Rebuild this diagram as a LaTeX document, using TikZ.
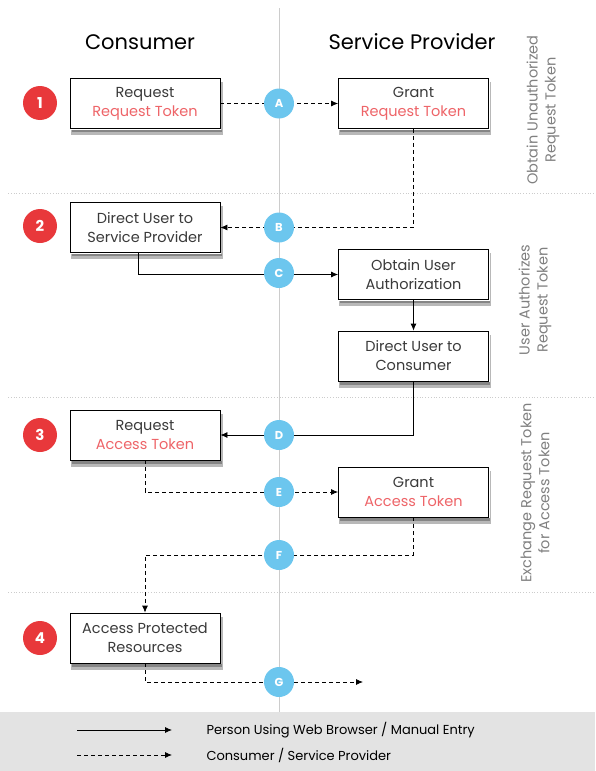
\documentclass[tikz,border=0pt]{standalone}
\usepackage{fontspec}
\setmainfont{Poppins}
\usetikzlibrary{arrows.meta,calc}
\definecolor{tokred}{HTML}{EE6468}
\definecolor{stepred}{HTML}{E8383B}
\definecolor{legblue}{HTML}{6CC6EE}
\definecolor{txtgray}{HTML}{3A3A3A}
\begin{document}
\begin{tikzpicture}[x=1pt, y=-1pt,
  every node/.style = {font=\fontsize{14.5}{19}\selectfont, text=txtgray},
  box/.style        = {draw=black, thick, fill=white, align=center,
                        minimum width=150pt, minimum height=50pt, inner sep=2pt},
  shade/.style      = {fill=black, fill opacity=0.28},
  stepnum/.style    = {circle, fill=stepred, minimum size=34pt, inner sep=0pt,
                        text=white, font=\fontsize{15}{15}\selectfont\bfseries},
  leg/.style        = {circle, fill=legblue, minimum size=30pt, inner sep=0pt,
                        text=white, font=\fontsize{11.5}{11.5}\selectfont\bfseries},
  arr/.style        = {-{Latex[length=7pt,width=6pt]}, thick},
  darr/.style       = {arr, dash pattern=on 4pt off 3pt},
  sep/.style        = {gray!40, dotted, thick},
  side/.style       = {rotate=90, align=center, text=gray, font=\fontsize{14.5}{18}\selectfont},
  head/.style       = {font=\fontsize{21}{25}\selectfont, text=black},
]
\useasboundingbox (0,0) rectangle (595,771);

% ── Frame ──────────────────────────────────────────────────────────────────
\fill[gray!22] (0,712) rectangle (595,771);
\draw[gray!40, thick] (279,8) -- (279,712);
\foreach \yy in {193,397,592}
  \draw[sep] (8,\yy) -- (595,\yy);

% ── Headings ───────────────────────────────────────────────────────────────
\node[head] (hcons) at (140,42) {Consumer};
\node[head] (hprov) at (412,42) {Service Provider};

\node[side] (ph1) at (543,110) {Obtain Unauthorized\\Request Token};
\node[side] (ph2) at (535,300) {User Authorizes\\Request Token};
\node[side] (ph3) at (535,493) {Exchange Request Token\\for Access Token};

% ── Boxes ──────────────────────────────────────────────────────────────────
\node[box] (reqRT)  at (145,103.5) {Request\\\textcolor{tokred}{Request Token}};
\node[box] (grRT)   at (413.5,103.5) {Grant\\\textcolor{tokred}{Request Token}};
\node[box] (dirSP)  at (145,227.5) {Direct User to\\Service Provider};
\node[box] (obtUA)  at (413.5,274.5) {Obtain User\\Authorization};
\node[box] (dirCon) at (413.5,356) {Direct User to\\Consumer};
\node[box] (reqAT)  at (145,435) {Request\\\textcolor{tokred}{Access Token}};
\node[box] (grAT)   at (413.5,492) {Grant\\\textcolor{tokred}{Access Token}};
\node[box] (access) at (145,638) {Access Protected\\Resources};

% box shadows (below each box)
\foreach \b in {reqRT,grRT,dirSP,obtUA,dirCon,reqAT,grAT,access} {
  \fill[shade] ($(\b.south west)+(1,1)$) rectangle ($(\b.south east)+(2.5,6.5)$);
  \fill[shade] ($(\b.south west)+(2,1)$) rectangle ($(\b.south east)+(1.5,3.5)$);
  \fill[shade] ($(\b.north east)+(1,4)$) rectangle ($(\b.south east)+(2.5,1)$);
}

% ── Connections ────────────────────────────────────────────────────────────
\coordinate (fTurn) at (145,555);
\coordinate (gEnd) at (363,682);
\draw[darr] (reqRT.east) -- (grRT.west);
\draw[darr] (grRT.south) |- (dirSP.east);
\draw[arr] ([xshift=-7pt]dirSP.south) |- (obtUA.west);
\draw[arr] (obtUA.south) -- (dirCon.north);
\draw[arr] (dirCon.south) |- (reqAT.east);
\draw[darr] (reqAT.south) |- (grAT.west);
\draw[darr] (grAT.south) |- (fTurn) -- (access.north);
\draw[darr] (access.south) |- (gEnd);

% ── Step numbers ───────────────────────────────────────────────────────────
\node[stepnum] (s1) at (40,103) {1};
\node[stepnum] (s2) at (40,226) {2};
\node[stepnum] (s3) at (40,435) {3};
\node[stepnum] (s4) at (40,638) {4};

% ── Leg letters ────────────────────────────────────────────────────────────
\node[leg] (lA) at (279,103.5) {A};
\node[leg] (lB) at (279,227.5) {B};
\node[leg] (lC) at (279,273)   {C};
\node[leg] (lD) at (279,435)   {D};
\node[leg] (lE) at (279,492)   {E};
\node[leg] (lF) at (279,555)   {F};
\node[leg] (lG) at (279,682)   {G};

% ── Legend ─────────────────────────────────────────────────────────────────
\coordinate (k1a) at (77,730);  \coordinate (k1b) at (172,730);
\coordinate (k2a) at (77,755);  \coordinate (k2b) at (172,755);
\draw[arr] (k1a) -- (k1b);
\draw[darr] (k2a) -- (k2b);
\node[anchor=west, text=black, font=\fontsize{13}{16}\selectfont] (t1) at (203,730)
  {Person Using Web Browser / Manual Entry};
\node[anchor=west, text=black, font=\fontsize{13}{16}\selectfont] (t2) at (203,755)
  {Consumer / Service Provider};

\end{tikzpicture}
\end{document}
